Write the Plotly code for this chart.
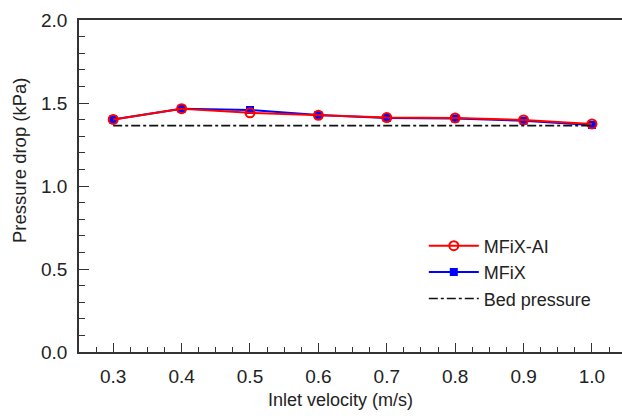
import plotly.graph_objects as go

# Inlet velocity (m/s)
velocity = [0.3, 0.4, 0.5, 0.6, 0.7, 0.8, 0.9, 1.0]
# Pressure drop (kPa)
mfix_ai = [1.401, 1.466, 1.441, 1.426, 1.412, 1.410, 1.398, 1.374]
mfix = [1.400, 1.465, 1.458, 1.428, 1.410, 1.407, 1.393, 1.368]
bed_pressure = [1.364, 1.364]
bed_x = [0.3, 1.0]

x_ticks = [0.3, 0.4, 0.5, 0.6, 0.7, 0.8, 0.9, 1.0]
x_tick_text = ["0.3", "0.4", "0.5", "0.6", "0.7", "0.8", "0.9", "1.0"]
y_ticks = [0.0, 0.5, 1.0, 1.5, 2.0]
y_tick_text = ["0.0", "0.5", "1.0", "1.5", "2.0"]

FONT = "Liberation Sans, Arial, sans-serif"
INK = "#222222"
AXIS = "#333333"

fig = go.Figure()

fig.add_trace(go.Scatter(
    x=velocity, y=mfix, name="MFiX", mode="lines+markers",
    line=dict(color="#0000ff", width=2),
    marker=dict(symbol="square", size=8, color="#0000ff"),
    legendrank=2,
))
fig.add_trace(go.Scatter(
    x=velocity, y=mfix_ai, name="MFiX-AI", mode="lines+markers",
    line=dict(color="#ff0000", width=2),
    marker=dict(symbol="circle-open", size=9, color="#ff0000",
                line=dict(width=2, color="#ff0000")),
    legendrank=1,
))
fig.add_trace(go.Scatter(
    x=bed_x, y=bed_pressure, name="Bed pressure", mode="lines",
    line=dict(color="#111111", width=1.6, dash="dashdot"),
    legendrank=3,
))

# axis titles placed as paper-anchored text
fig.add_annotation(text="Inlet velocity (m/s)", xref="paper", yref="paper",
                   x=(340 - 79) / 543, y=-(400 - 352) / 332,
                   xanchor="center", yanchor="middle", showarrow=False,
                   font=dict(size=18, color=INK))
fig.add_annotation(text="Pressure drop (kPa)", xref="paper", yref="paper",
                   x=-(79 - 19) / 543, y=(352 - 160) / 332, textangle=-90,
                   xanchor="center", yanchor="middle", showarrow=False,
                   font=dict(size=18.5, color=INK))

fig.update_layout(
    width=622, height=416,
    margin=dict(l=79, r=0, t=20, b=64),
    paper_bgcolor="white", plot_bgcolor="white",
    font=dict(family=FONT, size=19, color=INK),
    showlegend=True,
    legend=dict(
        x=0.635, y=0.375, xanchor="left", yanchor="top",
        bgcolor="rgba(0,0,0,0)", font=dict(size=18, color=INK),
        tracegroupgap=0, itemwidth=50,
    ),
    xaxis=dict(
        range=[0.25, 1.0439], tickvals=x_ticks, ticktext=x_tick_text,
        showline=True, linecolor=AXIS, linewidth=1.5, mirror=True,
        ticks="inside", ticklen=9, tickwidth=1.2, tickcolor=AXIS,
        ticklabelstandoff=6,
        minor=dict(dtick=0.025, tick0=0.25, ticks="inside", ticklen=5,
                   tickwidth=1.2, tickcolor=AXIS),
        showgrid=False, zeroline=False,
    ),
    yaxis=dict(
        range=[0.0, 2.0], tickvals=y_ticks, ticktext=y_tick_text,
        showline=True, linecolor=AXIS, linewidth=1.5, mirror=False,
        ticks="inside", ticklen=10, tickwidth=1.2, tickcolor=AXIS,
        ticklabelstandoff=6,
        minor=dict(dtick=0.1, tick0=0.0, ticks="inside", ticklen=6,
                   tickwidth=1.2, tickcolor=AXIS),
        showgrid=False, zeroline=False,
    ),
)

fig.write_html("out.html")
